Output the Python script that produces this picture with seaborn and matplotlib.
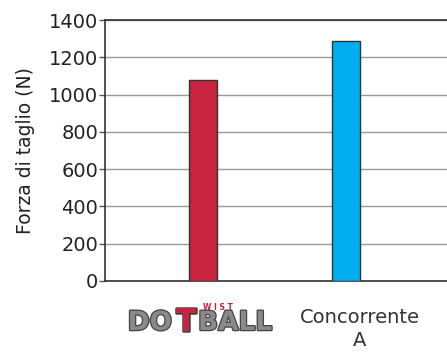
import pandas as pd
import seaborn as sns
import matplotlib.pyplot as plt
import matplotlib.patheffects as pe
from matplotlib.transforms import blended_transform_factory, ScaledTranslation

products = ["DOTWISTBALL", "Concorrente A"]
forces = [1078, 1285]
colors = ["#C8233F", "#00AEEF"]
yticks = [0, 200, 400, 600, 800, 1000, 1200, 1400]

data = pd.DataFrame({"prodotto": products, "forza": forces})

sns.set_style("white")
plt.rcParams['font.family'] = ['DejaVu Sans']

f, ax = plt.subplots(figsize=(4.47, 3.52), dpi=100)
f.subplots_adjust(left=105/447, right=1.0, top=1-20/352, bottom=1-281/352)

sns.barplot(data, x="prodotto", y="forza", hue="prodotto", palette=colors, saturation=1,
            width=0.196, edgecolor="#333333", linewidth=1, legend=False, ax=ax, zorder=3)

ax.set_ylim(0, 1400)
ax.set_xlim(-0.688, 1.712)
ax.set_yticks(yticks)
ax.yaxis.grid(True, color="#999999", linewidth=1, zorder=0)
ax.set_axisbelow(True)

for side in ["left", "top", "bottom"]:
    ax.spines[side].set_color("#333333")
    ax.spines[side].set_linewidth(1.2)
ax.spines["right"].set_visible(False)

ax.tick_params(axis="y", left=True, length=4, width=1, color="#555555",
               labelsize=14, labelcolor="#222222", pad=1)
ax.tick_params(axis="x", bottom=False, labelsize=14, labelcolor="#333333", pad=16)
ax.set_xticks([0, 1])
ax.set_xticklabels(["", "Concorrente\nA"], linespacing=1.25)
# the competitor label sits a little right of its bar
lab = ax.get_xticklabels()[1]
lab.set_transform(lab.get_transform() + ScaledTranslation(0.14, 0, f.dpi_scale_trans))
ax.set_xlabel("")
ax.set_ylabel("Forza di taglio (N)", fontsize=13.5, color="#222222", labelpad=10)

# logo-style label for the first product
tr = blended_transform_factory(ax.transData, ax.transAxes)
stroke = [pe.withStroke(linewidth=1.8, foreground="#444444")]
logo_kw = dict(xycoords=tr, textcoords="offset pixels", va="center",
               fontsize=19, fontweight="bold", family="DejaVu Sans", path_effects=stroke)
ax.annotate("DO", xy=(0, 0), xytext=(-31, -42), ha="right", color="#8a8a8a", **logo_kw)
ax.annotate("T", xy=(0, 0), xytext=(-17, -41), ha="center", color="#C8233F",
            **{**logo_kw, "fontsize": 22})
ax.annotate("BALL", xy=(0, 0), xytext=(-5, -42), ha="left", color="#8a8a8a", **logo_kw)
ax.annotate("W I S T", xy=(0, 0), xytext=(15, -29), ha="center", va="baseline",
            color="#C8233F", xycoords=tr, textcoords="offset pixels",
            fontsize=5.5, fontweight="bold", family="DejaVu Sans")

f.savefig("out.png", dpi=100)
